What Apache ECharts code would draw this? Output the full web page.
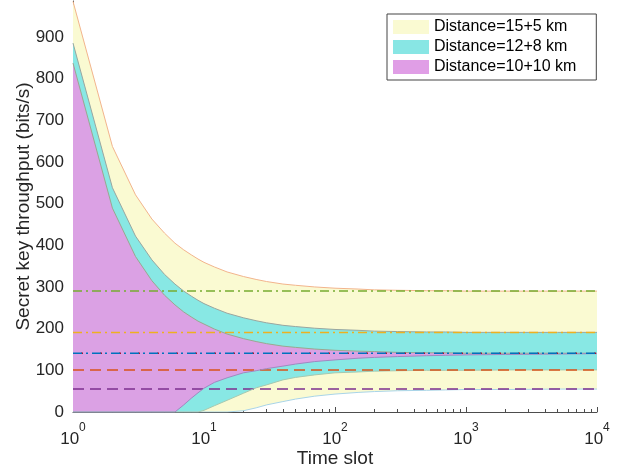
<!DOCTYPE html>
<html>
<head>
<meta charset="utf-8">
<script src="https://cdn.jsdelivr.net/npm/echarts@6/dist/echarts.min.js"></script>
<style>
  html, body { margin: 0; padding: 0; background: #fff; }
  #chart { width: 627px; height: 472px; }
</style>
</head>
<body>
<div id="chart"></div>
<script>
// time slots (x)
const timeSlots = [1, 2, 3, 4, 5, 6, 7, 8, 9, 10, 12, 15, 20, 25, 30, 40, 50, 70, 100, 150, 200, 300, 500, 700, 1000, 2000, 5000, 10000];

// Distance=15+5 km band
const upper15_5 = [985, 637, 521, 463, 429, 405, 389, 377, 367, 359, 348, 336, 325, 318, 313, 307, 304, 300, 297, 295, 293, 292, 291, 291, 290, 290, 290, 290];
const lower15_5 = [0, 0, 0, 0, 0, 0, 0, 0, 0, 0, 0, 0, 3, 10, 17, 25, 31, 38, 43, 47, 49, 51, 52, 53, 54, 54, 55, 55];
// Distance=12+8 km band
const upper12_8 = [885, 538, 422, 365, 330, 307, 290, 278, 268, 260, 249, 237, 226, 219, 214, 208, 205, 201, 198, 196, 194, 193, 192, 192, 191, 191, 191, 191];
const lower12_8 = [0, 0, 0, 0, 0, 0, 0, 0, 0, 4, 15, 28, 45, 58, 65, 77, 83, 89, 94, 96, 98, 99, 100, 100, 100, 101, 101, 101];
// Distance=10+10 km band
const upper10_10 = [837, 489, 373, 315, 280, 257, 240, 228, 218, 211, 199, 187, 176, 169, 164, 158, 155, 151, 148, 146, 145, 143, 142, 142, 141, 141, 141, 141];
const lower10_10 = [0, 0, 0, 0, 0, 0, 17, 33, 46, 57, 71, 82, 94, 99, 104, 110, 115, 121, 125, 129, 131, 133, 135, 136, 137, 138, 139, 140];

// asymptotic limits (upper, lower)
const limit15_5 = [290, 55];
const limit12_8 = [191, 101];
const limit10_10 = [141, 141];

const bandNames = ['Distance=15+5 km', 'Distance=12+8 km', 'Distance=10+10 km'];
const decadeTicks = [1, 10, 100, 1000, 10000];
const yTicks = [0, 100, 200, 300, 400, 500, 600, 700, 800, 900];

const minorTicks = [];
decadeTicks.slice(0, -1).forEach(d => {
  [2, 3, 4, 5, 6, 7, 8, 9].forEach(k => minorTicks.push(k * d));
});

const legendColors = ['#FAFAD2', '#88E6E4', '#E09EE6'];
const font = 'Liberation Sans, Arial, Helvetica, sans-serif';
const axisColor = '#4d4d4d';

// filled region between lower and upper, drawn through the axes' scales
function band(name, lower, upper, fill, opacity, edgeUp, edgeLow) {
  const area = {
    name: name,
    type: 'custom',
    silent: true,
    itemStyle: { color: fill },
    data: [[timeSlots[0], upper[0]]],
    encode: { x: 0, y: 1 },
    renderItem: (params, api) => {
      const pts = [];
      timeSlots.forEach((t, i) => pts.push(api.coord([t, upper[i]])));
      for (let i = timeSlots.length - 1; i >= 0; i--) pts.push(api.coord([timeSlots[i], lower[i]]));
      return { type: 'polygon', shape: { points: pts }, style: { fill: fill, opacity: opacity } };
    },
  };
  const edge = (vals, color) => ({
    type: 'line',
    data: timeSlots.map((t, i) => [t, vals[i]]),
    symbol: 'none',
    silent: true,
    lineStyle: { color: color, width: 1 },
  });
  return [area, edge(upper, edgeUp), edge(lower, edgeLow)];
}

function hline(value, color, dash, offset) {
  return {
    type: 'line',
    data: [[timeSlots[0], value], [timeSlots[timeSlots.length - 1], value]],
    symbol: 'none',
    silent: true,
    lineStyle: { color: color, width: 1.5, type: dash, dashOffset: offset || 0 },
  };
}

const dashDot = [9, 4, 2, 4];
const dashed = [11, 6];

const series = [].concat(
  band(bandNames[0], lower15_5, upper15_5, '#FAFAD2', 1, '#F2B48C', '#A8D4E8'),
  [hline(limit15_5[0], '#77AC30', dashDot), hline(limit15_5[1], '#7E2F8E', dashed)],
  band(bandNames[1], lower12_8, upper12_8, '#7BE5E6', 0.9, '#9AA6A0', '#A6C8B0'),
  [hline(limit12_8[0], '#EDB120', dashDot), hline(limit12_8[1], '#D95319', dashed)],
  band(bandNames[2], lower10_10, upper10_10, '#E499E3', 0.9, '#9AA890', '#A088C0'),
  [hline(limit10_10[1], '#A2142F', [2, 17], 11), hline(limit10_10[0], '#0072BD', dashDot)]
);

const chart = echarts.init(document.getElementById('chart'));
chart.setOption({
  animation: false,
  backgroundColor: '#fff',
  textStyle: { fontFamily: font },
  grid: { left: 73, right: 30, top: 1, bottom: 60, containLabel: false, outerBoundsMode: 'none' },
  legend: {
    orient: 'vertical',
    left: 387,
    top: 14,
    icon: 'rect',
    itemWidth: 36,
    itemHeight: 14,
    itemGap: 4,
    padding: [5, 20, 5, 6],
    borderColor: '#444',
    borderWidth: 1,
    backgroundColor: '#fff',
    itemStyle: { borderWidth: 0 },
    textStyle: { fontFamily: font, fontSize: 16, color: '#000' },
    data: bandNames.map((n, i) => ({ name: n, itemStyle: { color: legendColors[i], borderWidth: 0 } })),
  },
  xAxis: [
    {
      type: 'log',
      logBase: 10,
      min: 1,
      max: 10000,
      name: 'Time slot',
      nameLocation: 'middle',
      nameGap: 37,
      nameMoveOverlap: false,
      nameTextStyle: { fontFamily: font, fontSize: 19, color: '#262626' },
      axisLine: { lineStyle: { color: axisColor, width: 1 } },
      axisTick: { inside: true, length: 5, lineStyle: { color: axisColor } },
      splitLine: { show: false },
      axisLabel: {
        margin: 10,
        formatter: v => '{b|10}{s|' + Math.round(Math.log10(v)) + '}',
        rich: {
          b: { fontFamily: font, fontSize: 17, color: '#262626', verticalAlign: 'bottom', lineHeight: 26 },
          s: { fontFamily: font, fontSize: 12, color: '#262626', verticalAlign: 'top', lineHeight: 26 },
        },
      },
    },
    {
      type: 'log',
      logBase: 10,
      min: 1,
      max: 10000,
      position: 'bottom',
      axisLine: { show: false },
      axisLabel: { show: false },
      splitLine: { show: false },
      axisTick: { inside: true, length: 3, customValues: minorTicks, lineStyle: { color: axisColor } },
    },
  ],
  yAxis: {
    type: 'value',
    min: 0,
    max: 986,
    interval: 100,
    name: 'Secret key throughput (bits/s)',
    nameLocation: 'middle',
    nameGap: 40,
    nameMoveOverlap: false,
    nameTextStyle: { fontFamily: font, fontSize: 19, color: '#262626' },
    axisLine: { show: true, lineStyle: { color: axisColor, width: 1 } },
    axisTick: { show: true, inside: true, length: 5, customValues: yTicks, lineStyle: { color: axisColor } },
    splitLine: { show: false },
    axisLabel: {
      margin: 9,
      customValues: yTicks,
      fontFamily: font,
      fontSize: 17,
      color: '#262626',
    },
  },
  series: series,
});
</script>
</body>
</html>
